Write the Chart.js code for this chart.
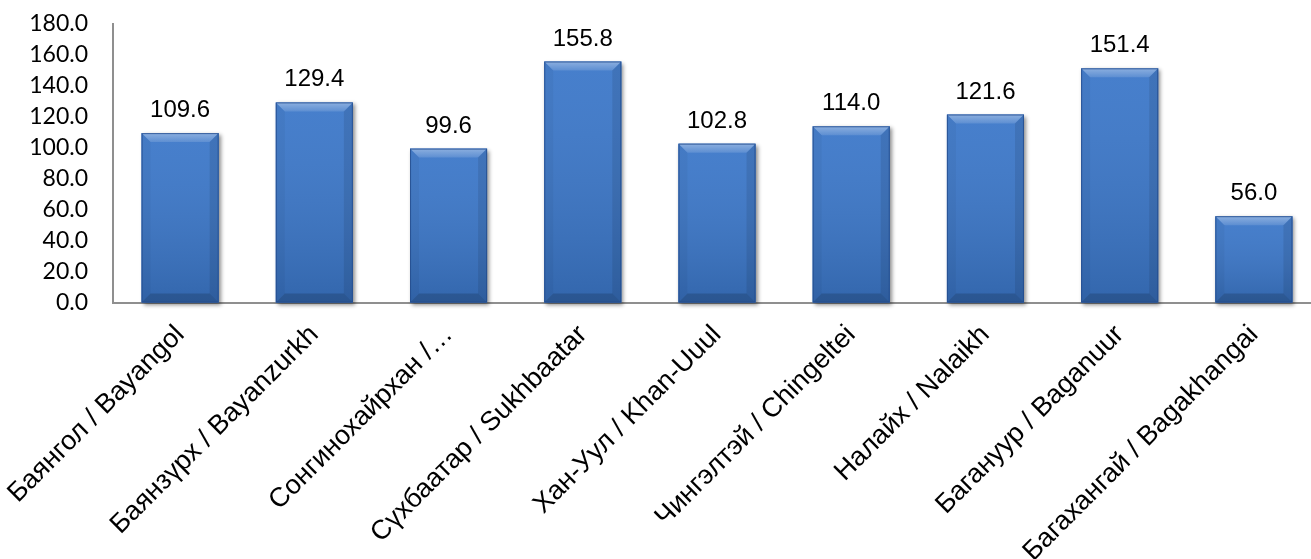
<!DOCTYPE html>
<html>
<head>
<meta charset="utf-8">
<script src="https://cdn.jsdelivr.net/npm/chart.js@4/dist/chart.umd.min.js"></script>
<style>
html,body{margin:0;padding:0;background:#fff;overflow:hidden;width:1311px;height:559px;}
canvas{display:block;}
</style>
</head>
<body>
<canvas id="c" width="1330" height="559"></canvas>
<script>
const categories = [
  "Баянгол / Bayangol",
  "Баянзүрх / Bayanzurkh",
  "Сонгинохайрхан /…",
  "Сүхбаатар / Sukhbaatar",
  "Хан-Уул / Khan-Uuul",
  "Чингэлтэй / Chingeltei",
  "Налайх / Nalaikh",
  "Багануур / Baganuur",
  "Багахангай / Bagakhangai"
];
const values = [109.6, 129.4, 99.6, 155.8, 102.8, 114.0, 121.6, 151.4, 56.0];
const yTicks = [0, 20, 40, 60, 80, 100, 120, 140, 160, 180];

const barStylePlugin = {
  id: 'barStyle',
  beforeDatasetsDraw(chart) {
    const ctx = chart.ctx;
    const meta = chart.getDatasetMeta(0);
    ctx.save();
    meta.data.forEach(el => {
      const l = el.x - el.width / 2, t = el.y, h = el.base - el.y;
      ctx.shadowColor = 'rgba(0,0,0,0.45)';
      ctx.shadowBlur = 4;
      ctx.shadowOffsetX = 2;
      ctx.shadowOffsetY = 2;
      ctx.fillStyle = '#3b77c9';
      ctx.fillRect(l, t, el.width, h);
    });
    ctx.restore();
  },
  afterDatasetsDraw(chart) {
    const ctx = chart.ctx;
    const meta = chart.getDatasetMeta(0);
    ctx.save();
    meta.data.forEach((el, i) => {
      const l = el.x - el.width / 2, r = el.x + el.width / 2, t = el.y, bt = el.base;
      const b = 9;
      const g = ctx.createLinearGradient(0, t, 0, bt);
      g.addColorStop(0, 'rgba(255,255,255,0.06)');
      g.addColorStop(1, 'rgba(0,0,0,0.14)');
      ctx.fillStyle = g;
      ctx.fillRect(l, t, r - l, bt - t);
      const gt = ctx.createLinearGradient(0, t, 0, t + b);
      gt.addColorStop(0, 'rgba(255,255,255,0.38)');
      gt.addColorStop(1, 'rgba(255,255,255,0.12)');
      ctx.fillStyle = gt;
      ctx.beginPath();
      ctx.moveTo(l, t); ctx.lineTo(r, t); ctx.lineTo(r - b, t + b); ctx.lineTo(l + b, t + b); ctx.closePath();
      ctx.fill();
      ctx.fillStyle = 'rgba(0,0,0,0.04)';
      ctx.beginPath();
      ctx.moveTo(l, t); ctx.lineTo(l + b, t + b); ctx.lineTo(l + b, bt - b); ctx.lineTo(l, bt); ctx.closePath();
      ctx.fill();
      ctx.fillStyle = 'rgba(0,0,0,0.09)';
      ctx.beginPath();
      ctx.moveTo(r, t); ctx.lineTo(r - b, t + b); ctx.lineTo(r - b, bt - b); ctx.lineTo(r, bt); ctx.closePath();
      ctx.fill();
      ctx.fillStyle = 'rgba(0,0,0,0.16)';
      ctx.beginPath();
      ctx.moveTo(l, bt); ctx.lineTo(l + b, bt - b); ctx.lineTo(r - b, bt - b); ctx.lineTo(r, bt); ctx.closePath();
      ctx.fill();
      ctx.strokeStyle = 'rgba(35,75,140,0.8)';
      ctx.lineWidth = 1;
      ctx.strokeRect(l + 0.5, t + 0.5, r - l - 1, bt - t - 1);
      ctx.fillStyle = '#000';
      ctx.font = '24px "Liberation Sans", Arial, sans-serif';
      ctx.textAlign = 'center';
      ctx.textBaseline = 'alphabetic';
      ctx.fillText(values[i].toFixed(1), el.x, t - 16);
    });
    ctx.restore();
  }
};

new Chart(document.getElementById('c'), {
  type: 'bar',
  data: {
    labels: categories,
    datasets: [{
      data: values,
      backgroundColor: '#3b77c9',
      borderWidth: 0,
      barPercentage: 0.574,
      categoryPercentage: 1.0
    }]
  },
  options: {
    responsive: false,
    animation: false,
    devicePixelRatio: 1,
    layout: { padding: { top: 24, right: 9, left: 0, bottom: 0 } },
    plugins: { legend: { display: false }, tooltip: { enabled: false } },
    scales: {
      x: {
        grid: { display: true, drawOnChartArea: false, drawTicks: false },
        border: { display: true, color: '#8f8f8f', width: 2 },
        ticks: {
          autoSkip: false, maxRotation: 45, minRotation: 45, padding: 16,
          color: '#000',
          font: { family: '"Liberation Sans", Arial, sans-serif', size: 27 }
        },
        afterFit(s) { s.paddingLeft = 0; s.paddingRight = 0; s.height = 559 - 303; }
      },
      y: {
        min: 0, max: 180,
        afterBuildTicks(s) { s.ticks = yTicks.map(v => ({ value: v })); },
        grid: { display: true, drawOnChartArea: false, drawTicks: false },
        border: { display: true, color: '#8f8f8f', width: 2 },
        ticks: {
          padding: 25, color: '#000',
          font: { family: 'Lato, "Open Sans", sans-serif', size: 23 },
          callback: v => Number(v).toFixed(1)
        },
        afterFit(s) { s.width = 113; s.paddingTop = 0; s.paddingBottom = 0; }
      }
    }
  },
  plugins: [barStylePlugin]
});
</script>
</body>
</html>
